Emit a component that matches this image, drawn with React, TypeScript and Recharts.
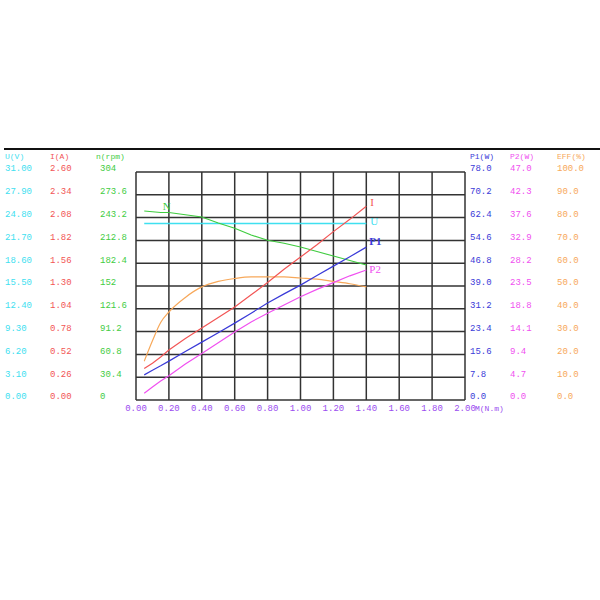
import { CartesianGrid, ComposedChart, Line, XAxis, YAxis } from "recharts";

// torque points (N.m)
const TORQUE = [0.05, 0.1, 0.15, 0.2, 0.3, 0.4, 0.5, 0.6, 0.7, 0.8, 0.9, 1.0, 1.1, 1.2, 1.3, 1.4];

const SPEED = [252, 251, 250, 250, 247, 244, 236, 229, 220, 213, 209, 204, 198, 192, 186, 180];
const VOLTAGE = [24, 24, 24, 24, 24, 24, 24, 24, 24, 24, 24, 24, 24, 24, 24, 24];
const CURRENT = [0.36, 0.42, 0.49, 0.57, 0.7, 0.82, 0.94, 1.06, 1.2, 1.34, 1.49, 1.63, 1.77, 1.92, 2.06, 2.21];
const P1_IN = [8.6, 10.2, 11.7, 13.3, 16.6, 19.8, 23.0, 26.3, 29.7, 33.2, 36.3, 39.3, 42.6, 45.8, 49.0, 52.3];
const P2_OUT = [1.4, 2.7, 3.9, 5.0, 7.4, 9.6, 11.8, 14.0, 16.1, 17.9, 19.6, 21.3, 22.8, 24.2, 25.6, 26.8];
const EFFICIENCY = [17, 26, 34, 38.6, 45, 49.6, 52, 53.3, 54, 54, 54, 53.5, 53, 52, 51, 49.6];

// axis ticks
const X_TICKS = [0, 0.2, 0.4, 0.6, 0.8, 1.0, 1.2, 1.4, 1.6, 1.8, 2.0];
const U_TICKS = [0, 3.1, 6.2, 9.3, 12.4, 15.5, 18.6, 21.7, 24.8, 27.9, 31];
const I_TICKS = [0, 0.26, 0.52, 0.78, 1.04, 1.3, 1.56, 1.82, 2.08, 2.34, 2.6];
const N_TICKS = [0, 30.4, 60.8, 91.2, 121.6, 152, 182.4, 212.8, 243.2, 273.6, 304];
const P1_TICKS = [0, 7.8, 15.6, 23.4, 31.2, 39, 46.8, 54.6, 62.4, 70.2, 78];
const P2_TICKS = [0, 4.7, 9.4, 14.1, 18.8, 23.5, 28.2, 32.9, 37.6, 42.3, 47];
const EFF_TICKS = [0, 10, 20, 30, 40, 50, 60, 70, 80, 90, 100];

const FONT = "'Liberation Mono', monospace";
const C_U = "#3ee0f0";
const C_I = "#f25555";
const C_N = "#3fcc3f";
const C_P1 = "#3a3ad8";
const C_P2 = "#f050f0";
const C_EFF = "#f7a85a";
const C_X = "#9a4cf0";

const rows = TORQUE.map((m, i) => ({
  m,
  n: SPEED[i],
  u: VOLTAGE[i],
  i: CURRENT[i],
  p1: P1_IN[i],
  p2: P2_OUT[i],
  eff: EFFICIENCY[i],
}));

function makeTick(colX: number, color: string, fmt: (v: number) => string) {
  return (props: any) => (
    <text
      x={colX}
      y={props.y - 3}
      fill={color}
      fontSize={9}
      fontFamily={FONT}
      textAnchor="start"
      dominantBaseline="middle"
    >
      {fmt(props.payload.value)}
    </text>
  );
}

function XTick(props: any) {
  const v = props.payload.value;
  return (
    <g>
      <text x={props.x} y={409} fill={C_X} fontSize={9} fontFamily={FONT} textAnchor="middle" dominantBaseline="middle">
        {v.toFixed(2)}
      </text>
      {v === 2 && (
        <text x={props.x + 10} y={409} fill={C_X} fontSize={8} fontFamily={FONT} textAnchor="start" dominantBaseline="middle">
          M(N.m)
        </text>
      )}
    </g>
  );
}

function endLabel(text: string, color: string, at: number, dx: number, dy: number, bold = false) {
  return (props: any) => {
    if (props.index !== at) return <g key={props.index} />;
    return (
      <text
        key={props.index}
        x={props.x + dx}
        y={props.y + dy}
        fill={color}
        fontSize={11}
        fontWeight={bold ? "bold" : "normal"}
        fontFamily="'Liberation Serif', serif"
        dominantBaseline="middle"
      >
        {text}
      </text>
    );
  };
}

const HEADERS = [
  { text: "U(V)", x: 5, color: C_U },
  { text: "I(A)", x: 50, color: C_I },
  { text: "n(rpm)", x: 96, color: C_N },
  { text: "P1(W)", x: 470, color: C_P1 },
  { text: "P2(W)", x: 510, color: C_P2 },
  { text: "EFF(%)", x: 557, color: C_EFF },
];

const last = TORQUE.length - 1;

export default function App() {
  return (
    <div style={{ position: "absolute", left: 0, top: 0, width: 600, height: 600, background: "#fff" }}>
      <div style={{ position: "absolute", left: 4, top: 148, width: 596, height: 2, background: "#111" }} />
      {HEADERS.map((h) => (
        <div
          key={h.text}
          style={{
            position: "absolute",
            left: h.x,
            top: 152,
            fontSize: 8,
            fontFamily: FONT,
            color: h.color,
            lineHeight: "10px",
            whiteSpace: "nowrap",
          }}
        >
          {h.text}
        </div>
      ))}
      <ComposedChart
        width={600}
        height={600}
        data={rows}
        margin={{ top: 172, right: 0, bottom: 170, left: 0 }}
      >
        <CartesianGrid yAxisId="u" stroke="#333" strokeWidth={1.5} />
        <XAxis
          dataKey="m"
          type="number"
          domain={[0, 2]}
          ticks={X_TICKS}
          axisLine={false}
          tickLine={false}
          tick={XTick}
          height={30}
          interval={0}
        />
        <YAxis yAxisId="u" orientation="left" width={45} domain={[0, 31]} ticks={U_TICKS} axisLine={false} tickLine={false} interval={0} tick={makeTick(5, C_U, (v) => v.toFixed(2))} />
        <YAxis yAxisId="i" orientation="left" width={45} domain={[0, 2.6]} ticks={I_TICKS} axisLine={false} tickLine={false} interval={0} tick={makeTick(50, C_I, (v) => v.toFixed(2))} />
        <YAxis yAxisId="n" orientation="left" width={46} domain={[0, 304]} ticks={N_TICKS} axisLine={false} tickLine={false} interval={0} tick={makeTick(100, C_N, (v) => String(v))} />
        <YAxis yAxisId="p1" orientation="right" width={45} domain={[0, 78]} ticks={P1_TICKS} axisLine={false} tickLine={false} interval={0} tick={makeTick(470, C_P1, (v) => v.toFixed(1))} />
        <YAxis yAxisId="p2" orientation="right" width={45} domain={[0, 47]} ticks={P2_TICKS} axisLine={false} tickLine={false} interval={0} tick={makeTick(510, C_P2, (v) => v.toFixed(1))} />
        <YAxis yAxisId="eff" orientation="right" width={45} domain={[0, 100]} ticks={EFF_TICKS} axisLine={false} tickLine={false} interval={0} tick={makeTick(557, C_EFF, (v) => v.toFixed(1))} />

        <Line yAxisId="eff" dataKey="eff" type="monotone" stroke={C_EFF} strokeWidth={1.2} dot={false} isAnimationActive={false} />
        <Line yAxisId="u" dataKey="u" type="linear" stroke={C_U} strokeWidth={1.4} dot={false} isAnimationActive={false} label={endLabel("U", C_U, last, 4, -1)} />
        <Line yAxisId="n" dataKey="n" type="linear" stroke={C_N} strokeWidth={1.2} dot={false} isAnimationActive={false} label={endLabel("N", C_N, 2, 2, -5)} />
        <Line yAxisId="i" dataKey="i" type="linear" stroke={C_I} strokeWidth={1.2} dot={false} isAnimationActive={false} label={endLabel("I", C_I, last, 4, -3)} />
        <Line yAxisId="p1" dataKey="p1" type="linear" stroke={C_P1} strokeWidth={1.2} dot={false} isAnimationActive={false} label={endLabel("P1", C_P1, last, 3, -5, true)} />
        <Line yAxisId="p2" dataKey="p2" type="linear" stroke={C_P2} strokeWidth={1.2} dot={false} isAnimationActive={false} label={endLabel("P2", C_P2, last, 3, 0)} />
      </ComposedChart>
    </div>
  );
}
